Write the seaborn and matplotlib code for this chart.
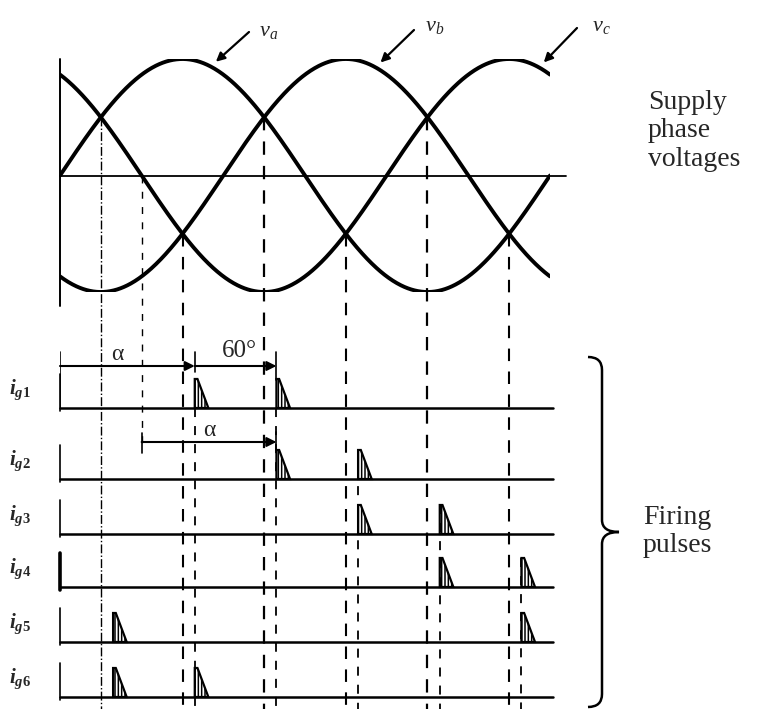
import numpy as np
import matplotlib
matplotlib.use("Agg")
from matplotlib import pyplot as plt
from matplotlib.path import Path
from matplotlib.patches import PathPatch
import seaborn as sns

# supply phases: label, phase shift (deg)
phase_labels = ["v_a", "v_b", "v_c"]
phase_shift = [0, -120, 120]

# crossing points of the phase voltages (deg)
upper_cross = [30, 150, 270]
lower_cross = [90, 210, 330]
zero_cross = [60]

# firing pulses per gate signal (deg)
gate_labels = ["g1", "g2", "g3", "g4", "g5", "g6"]
gate_pulses = [[99, 159], [159, 219], [219, 279], [279, 339], [39, 339], [39, 99]]
fire_angles = [99, 159, 219, 279, 339]

# ---- layout (pixels of the 771x709 picture) ----
W, H = 771, 709
row_y = [408, 479, 534, 587, 642, 697]
fire_start = [408, 408, 450, 505, 558]
pulse_h = 29
pulse_w = 10

sns.set_style("white")
plt.rcParams["font.family"] = ["Liberation Serif", "DejaVu Serif"]
plt.rcParams["mathtext.fontset"] = "custom"
plt.rcParams["mathtext.it"] = "Liberation Serif:italic:bold"
plt.rcParams["mathtext.rm"] = "Liberation Serif:bold"
plt.rcParams["mathtext.sf"] = "Liberation Serif:italic"
plt.rcParams["hatch.linewidth"] = 1.1

def fx(p):
    return p / W

def fy(p):
    return 1 - p / H

def vy(p):  # pixel row -> voltage axis value
    return (175.5 - p) / 116.5

fig = plt.figure(figsize=(W / 100, H / 100), dpi=100)
ax_v = fig.add_axes([fx(60), fy(292), (550 - 60) / W, (292 - 59) / H])
ax_p = fig.add_axes([fx(60), 0, (550 - 60) / W, (709 - 340) / H])
for ax in (ax_v, ax_p):
    ax.set_xlim(0, 360)
    ax.set_axis_off()
ax_v.set_ylim(-1, 1)
ax_p.set_ylim(709, 340)

# ---- supply phase voltages ----
theta = np.linspace(0, 360, 721)
for lab, sh in zip(phase_labels, phase_shift):
    sns.lineplot(x=theta, y=np.sin(np.radians(theta + sh)), ax=ax_v, color="black",
                 lw=2.8, estimator=None, sort=False)
ax_v.plot([0, 372], [0, 0], color="black", lw=1.3, clip_on=False)
ax_v.plot([0, 0], [1.0, -1.12], color="black", lw=1.4, clip_on=False)

# labels with arrows
lab_pos = [(259, 36), (425, 31), (592, 31)]
arrow_from = [(249, 32), (414, 30), (577, 28)]
arrow_to = [113, 234, 354]
for lab, sh, (lx, ly), (ax0, ay0), a in zip(phase_labels, phase_shift, lab_pos, arrow_from, arrow_to):
    fig.text(fx(lx), fy(ly), r"$\mathsf{%s}$" % lab, fontsize=16, va="baseline")
    ax_v.annotate("", xy=(a, np.sin(np.radians(a + sh)) + 0.04),
                  xytext=(fx(ax0), fy(ay0)), textcoords="figure fraction",
                  arrowprops=dict(arrowstyle="-|>", color="black", lw=1.6,
                                  mutation_scale=13, shrinkA=0, shrinkB=2))

# ---- dashed guides ----
ybot = vy(709)
for a in upper_cross:
    ax_v.plot([a, a], [0.5, ybot], color="black", lw=1.0 if a == 30 else 1.6,
              ls=(0, (6, 5)) if a != 30 else "-.", clip_on=False)
for a in lower_cross:
    ax_v.plot([a, a], [-0.5, ybot], color="black", lw=1.5, ls=(0, (6, 5)), clip_on=False)
for a in zero_cross:
    ax_v.plot([a, a], [0, vy(447)], color="black", lw=1.0, ls=(0, (5, 6)), clip_on=False)
for a, s in zip(fire_angles, fire_start):
    ax_p.plot([a, a], [s, 709], color="black", lw=1.3, ls=(0, (5, 5)))

# ---- firing pulses ----
for k, (base, pulses) in enumerate(zip(row_y, gate_pulses)):
    ax_p.plot([0, 362], [base, base], color="black", lw=1.8, clip_on=False)
    ax_p.plot([0, 0], [base + 3, base - 34], color="black", lw=2.6 if k == 3 else 1.2, clip_on=False)
    for a in pulses:
        ax_p.fill([a, a, a + 2, a + pulse_w], [base, base - pulse_h, base - pulse_h, base],
                  facecolor="white", edgecolor="black", hatch="|||||", lw=1.6)
    fig.text(fx(9), fy(base - 14), r"$i_{%s}$" % gate_labels[k], fontsize=15, va="baseline")

# alpha and 60 degree markers
arrow_kw = dict(arrowstyle="-|>", color="black", lw=1.5, mutation_scale=14, shrinkA=0, shrinkB=0)
ax_p.plot([0, 0], [352, 408], color="black", lw=1.2)
ax_p.annotate("", xy=(fire_angles[0], 366), xytext=(0, 366), arrowprops=arrow_kw)
ax_p.annotate("", xy=(fire_angles[1], 366), xytext=(fire_angles[0], 366), arrowprops=arrow_kw)
ax_p.plot([fire_angles[0]] * 2, [352, 372], color="black", lw=1.2)
ax_p.plot([fire_angles[1]] * 2, [352, 380], color="black", lw=1.2)
ax_p.text(42, 360, "\u03b1", fontsize=17, ha="center", va="baseline")
ax_p.text(132, 357, "60\u00b0", fontsize=18, ha="center", va="baseline")
ax_p.annotate("", xy=(fire_angles[1], 442), xytext=(zero_cross[0], 442), arrowprops=arrow_kw)
ax_p.plot([zero_cross[0]] * 2, [433, 453], color="black", lw=1.2)
ax_p.plot([fire_angles[1]] * 2, [432, 450], color="black", lw=1.2)
ax_p.text(110, 436, "\u03b1", fontsize=17, ha="center", va="baseline")

# brace and side texts
bx, tip_x, top, mid, bot = 602, 619, 357, 532, 707
pts = [(588, top), (bx, top), (bx, top + 13), (bx, mid - 12), (bx, mid), (tip_x, mid),
       (bx, mid), (bx, mid + 12), (bx, bot - 13), (bx, bot), (588, bot)]
codes = [Path.MOVETO, Path.CURVE3, Path.CURVE3, Path.LINETO, Path.CURVE3, Path.CURVE3,
         Path.CURVE3, Path.CURVE3, Path.LINETO, Path.CURVE3, Path.CURVE3]
brace = Path([(fx(x), fy(y)) for x, y in pts], codes)
fig.add_artist(PathPatch(brace, transform=fig.transFigure, fill=False, lw=1.8, color="black"))

for txt, y in zip(["Supply", "phase", "voltages"], [109, 137, 166]):
    fig.text(fx(648), fy(y), txt, fontsize=20, va="baseline")
for txt, y in zip(["Firing", "pulses"], [524, 552]):
    fig.text(fx(643), fy(y), txt, fontsize=20, va="baseline")

fig.savefig("out.png", dpi=100, facecolor="white")
